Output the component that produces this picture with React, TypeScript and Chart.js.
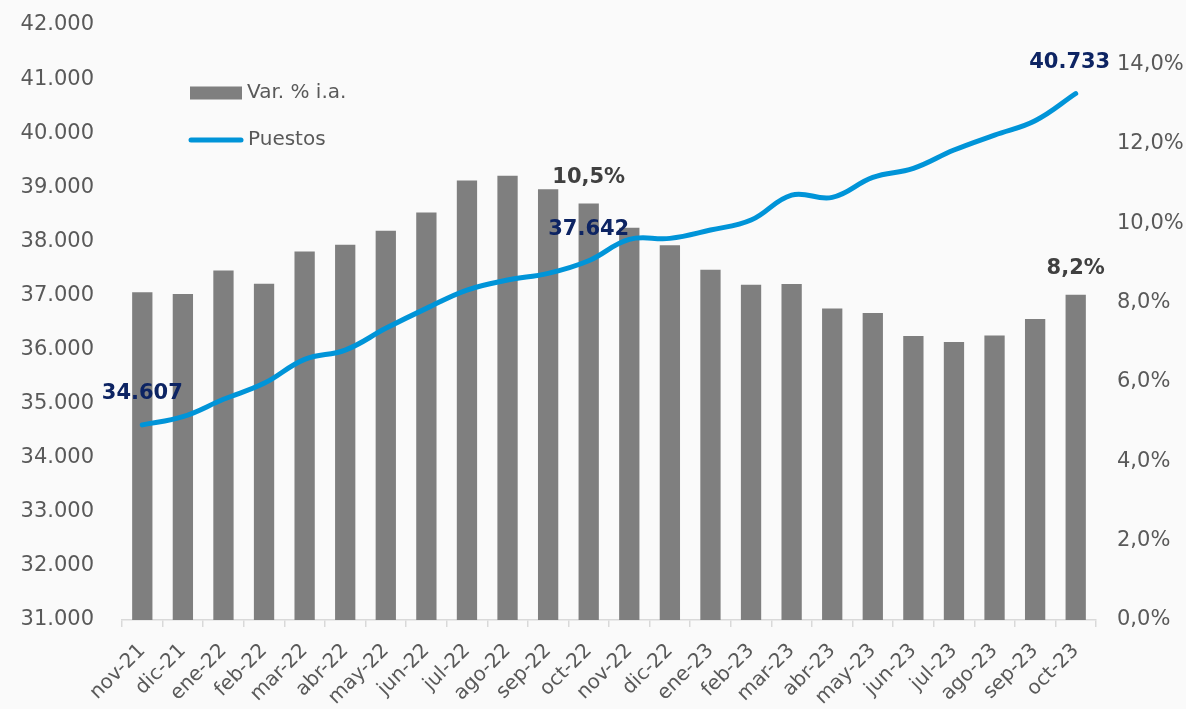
import React, { useEffect, useRef } from "react";
import { Chart, registerables } from "chart.js";

Chart.register(...registerables);

const categories = [
  "nov-21", "dic-21", "ene-22", "feb-22", "mar-22", "abr-22", "may-22", "jun-22",
  "jul-22", "ago-22", "sep-22", "oct-22", "nov-22", "dic-22", "ene-23", "feb-23",
  "mar-23", "abr-23", "may-23", "jun-23", "jul-23", "ago-23", "sep-23", "oct-23",
];

// Var. % i.a. (right axis, percent)
const varPct = [
  8.26, 8.22, 8.81, 8.48, 9.29, 9.46, 9.81, 10.27,
  11.08, 11.2, 10.86, 10.5, 9.89, 9.45, 8.83, 8.45,
  8.47, 7.85, 7.74, 7.16, 7.01, 7.17, 7.59, 8.2,
];

// Puestos (left axis)
const puestos = [
  34607, 34758, 35080, 35375, 35819, 35990, 36392, 36761,
  37100, 37285, 37408, 37642, 38037, 38055, 38209, 38394,
  38856, 38813, 39183, 39349, 39688, 39965, 40230, 40733,
];

const pctLabelIdx = [11, 23];
const puestosLabelIdx = [0, 11, 23];

const leftMin = 31000;
const leftMax = 42000;
const leftStep = 1000;
const rightMin = 0;
const rightMax = 15;
const rightStep = 2;
const rightTickMax = 14;

const FONT = "'DejaVu Sans', sans-serif";
const TEXT = "#595959";
const BAR = "#7f7f7f";
const LINE = "#0094d8";
const NAVY = "#0d2463";
const DARK = "#404040";

const fmtThousands = (v: number) =>
  String(Math.round(v)).replace(/\B(?=(\d{3})+(?!\d))/g, ".");
const fmtPct = (v: number) => v.toFixed(1).replace(".", ",") + "%";

const labelsPlugin = {
  id: "customLabels",
  afterDatasetsDraw(chart: any) {
    const ctx = chart.ctx;
    ctx.save();
    ctx.textAlign = "center";
    ctx.textBaseline = "middle";
    ctx.font = `bold 21px ${FONT}`;
    const barMeta = chart.getDatasetMeta(0);
    ctx.fillStyle = DARK;
    pctLabelIdx.forEach((i) => {
      const el = barMeta.data[i];
      ctx.fillText(fmtPct(varPct[i]), el.x, el.y - 26);
    });
    const lineMeta = chart.getDatasetMeta(1);
    ctx.fillStyle = NAVY;
    puestosLabelIdx.forEach((i, k) => {
      const el = lineMeta.data[i];
      const dx = k === puestosLabelIdx.length - 1 ? -6 : 0;
      ctx.fillText(fmtThousands(puestos[i]), el.x + dx, el.y - 31);
    });
    ctx.restore();
  },
  afterDraw(chart: any) {
    const ctx = chart.ctx;
    const a = chart.chartArea;
    const lx = a.left + 68;
    const ly = a.top + 68;
    ctx.save();
    ctx.fillStyle = BAR;
    ctx.fillRect(lx, ly - 6.5, 52, 13);
    ctx.strokeStyle = LINE;
    ctx.lineWidth = 5;
    ctx.lineCap = "round";
    ctx.beginPath();
    ctx.moveTo(lx + 1, ly + 47);
    ctx.lineTo(lx + 51, ly + 47);
    ctx.stroke();
    ctx.fillStyle = TEXT;
    ctx.font = `20px ${FONT}`;
    ctx.textAlign = "left";
    ctx.textBaseline = "middle";
    ctx.fillText("Var. % i.a.", lx + 57, ly);
    ctx.fillText("Puestos", lx + 58, ly + 47);
    ctx.restore();
  },
};

export default function App() {
  const ref = useRef<HTMLCanvasElement | null>(null);
  useEffect(() => {
    if (!ref.current) return;
    const chart = new Chart(ref.current, {
      type: "bar",
      data: {
        labels: categories,
        datasets: [
          {
            type: "bar",
            label: "Var. % i.a.",
            data: varPct,
            yAxisID: "y1",
            backgroundColor: BAR,
            borderWidth: 0,
            barPercentage: 0.5,
            categoryPercentage: 1,
            order: 1,
          },
          {
            type: "line",
            label: "Puestos",
            data: puestos,
            yAxisID: "y",
            borderColor: LINE,
            borderWidth: 5,
            borderCapStyle: "round",
            tension: 0.4,
            pointRadius: 0,
            fill: false,
            order: 0,
          } as any,
        ],
      },
      options: {
        animation: false,
        responsive: false,
        maintainAspectRatio: false,
        layout: { padding: { top: 25, left: 0, right: 0, bottom: 0 } },
        plugins: {
          legend: { display: false },
          tooltip: { enabled: false },
        },
        scales: {
          x: {
            offset: true,
            grid: {
              display: true,
              offset: true,
              drawOnChartArea: false,
              drawTicks: true,
              tickLength: 7,
              color: "#d9d9d9",
              lineWidth: 1.5,
            },
            border: { display: true, color: "#d9d9d9", width: 1.5 },
            ticks: {
              color: TEXT,
              font: { family: FONT, size: 20 },
              maxRotation: 45,
              minRotation: 45,
              autoSkip: false,
              padding: 12,
            },
            afterFit(scale: any) {
              scale.height = 89;
            },
          },
          y: {
            position: "left",
            min: leftMin,
            max: leftMax,
            grid: { display: false },
            border: { display: false },
            ticks: {
              stepSize: leftStep,
              color: TEXT,
              font: { family: FONT, size: 21 },
              padding: 20,
              callback: (v: any) => fmtThousands(Number(v)),
            },
            afterFit(scale: any) {
              scale.width = 122;
              scale.paddingTop = 10;
              scale.paddingBottom = 10;
            },
          },
          y1: {
            position: "right",
            min: rightMin,
            max: rightMax,
            grid: { display: false },
            border: { display: false },
            ticks: {
              stepSize: rightStep,
              color: TEXT,
              font: { family: FONT, size: 21 },
              padding: 13,
              callback: (v: any) => fmtPct(Number(v)),
            },
            afterBuildTicks(scale: any) {
              scale.ticks = scale.ticks.filter((t: any) => t.value <= rightTickMax);
            },
            afterFit(scale: any) {
              scale.width = 90;
              scale.paddingTop = 10;
              scale.paddingBottom = 10;
            },
          },
        },
      } as any,
      plugins: [labelsPlugin],
    });
    return () => chart.destroy();
  }, []);
  return (
    <div
      style={{
        position: "fixed",
        left: 0,
        top: 0,
        width: 1186,
        height: 709,
        background: "#fafafa",
      }}
    >
      <canvas ref={ref} width={1186} height={709} style={{ display: "block" }} />
    </div>
  );
}
